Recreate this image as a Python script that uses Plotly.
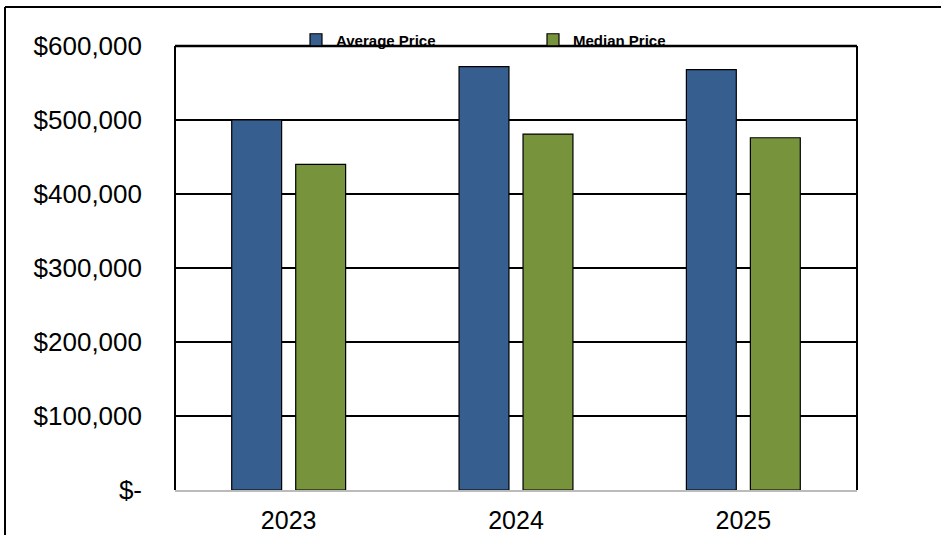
import plotly.graph_objects as go

years = ["2023", "2024", "2025"]
average_price = [500000, 572000, 568000]
median_price = [440000, 481000, 476000]
y_tick_vals = [0, 100000, 200000, 300000, 400000, 500000, 600000]
y_tick_text = ["$-", "$100,000", "$200,000", "$300,000", "$400,000", "$500,000", "$600,000"]

W, H = 941, 535
L, R, T, B = 175, 857, 46, 490

fig = go.Figure()
fig.add_trace(go.Bar(name="Average Price", x=years, y=average_price,
                     marker=dict(color="#365E8F", line=dict(color="#000000", width=1.2))))
fig.add_trace(go.Bar(name="Median Price", x=years, y=median_price,
                     marker=dict(color="#77933C", line=dict(color="#000000", width=1.2))))

def px(x):
    return (x - L) / (R - L)

def py(y):
    return (B - y) / (B - T)

shapes = [
    # outer chart border (top and left)
    dict(type="line", xref="paper", yref="paper", x0=px(5), x1=px(941), y0=py(7), y1=py(7),
         line=dict(color="#000000", width=2)),
    dict(type="line", xref="paper", yref="paper", x0=px(5), x1=px(5), y0=py(7), y1=py(540),
         line=dict(color="#000000", width=2)),
    # plot area border
    dict(type="line", xref="paper", yref="paper", x0=0, x1=1, y0=1, y1=1,
         line=dict(color="#000000", width=2.5)),
    dict(type="line", xref="paper", yref="paper", x0=0, x1=0, y0=0, y1=1,
         line=dict(color="#000000", width=2)),
    dict(type="line", xref="paper", yref="paper", x0=1, x1=1, y0=0, y1=1,
         line=dict(color="#000000", width=2)),
]

fig.update_layout(
    width=W, height=H,
    margin=dict(l=L, r=W - R, t=T, b=H - B, pad=0, autoexpand=False),
    paper_bgcolor="#FFFFFF", plot_bgcolor="#FFFFFF",
    font=dict(family="Liberation Sans, Arial, sans-serif", color="#000000"),
    barmode="group", bargap=0.437, bargroupgap=0.22,
    showlegend=True,
    legend=dict(orientation="h", x=px(296), xanchor="left", y=py(40), yanchor="middle",
                bgcolor="rgba(0,0,0,0)", font=dict(size=15, color="#000000", family="Liberation Sans, Arial, sans-serif", weight="bold"),
                entrywidth=192, entrywidthmode="pixels", itemwidth=30),
    shapes=shapes,
    xaxis=dict(showgrid=False, showline=True, linecolor="#BBBBBB", linewidth=2,
               ticks="", tickfont=dict(size=25), ticklabelstandoff=7, fixedrange=True,
               automargin=False),
    yaxis=dict(range=[0, 600000], tickvals=y_tick_vals, ticktext=y_tick_text,
               showgrid=True, gridcolor="#000000", gridwidth=2, zeroline=False,
               showline=False, ticks="", tickfont=dict(size=26), ticklabelstandoff=32,
               fixedrange=True, automargin=False),
)

fig.write_html("out.html", config={"displayModeBar": False})
